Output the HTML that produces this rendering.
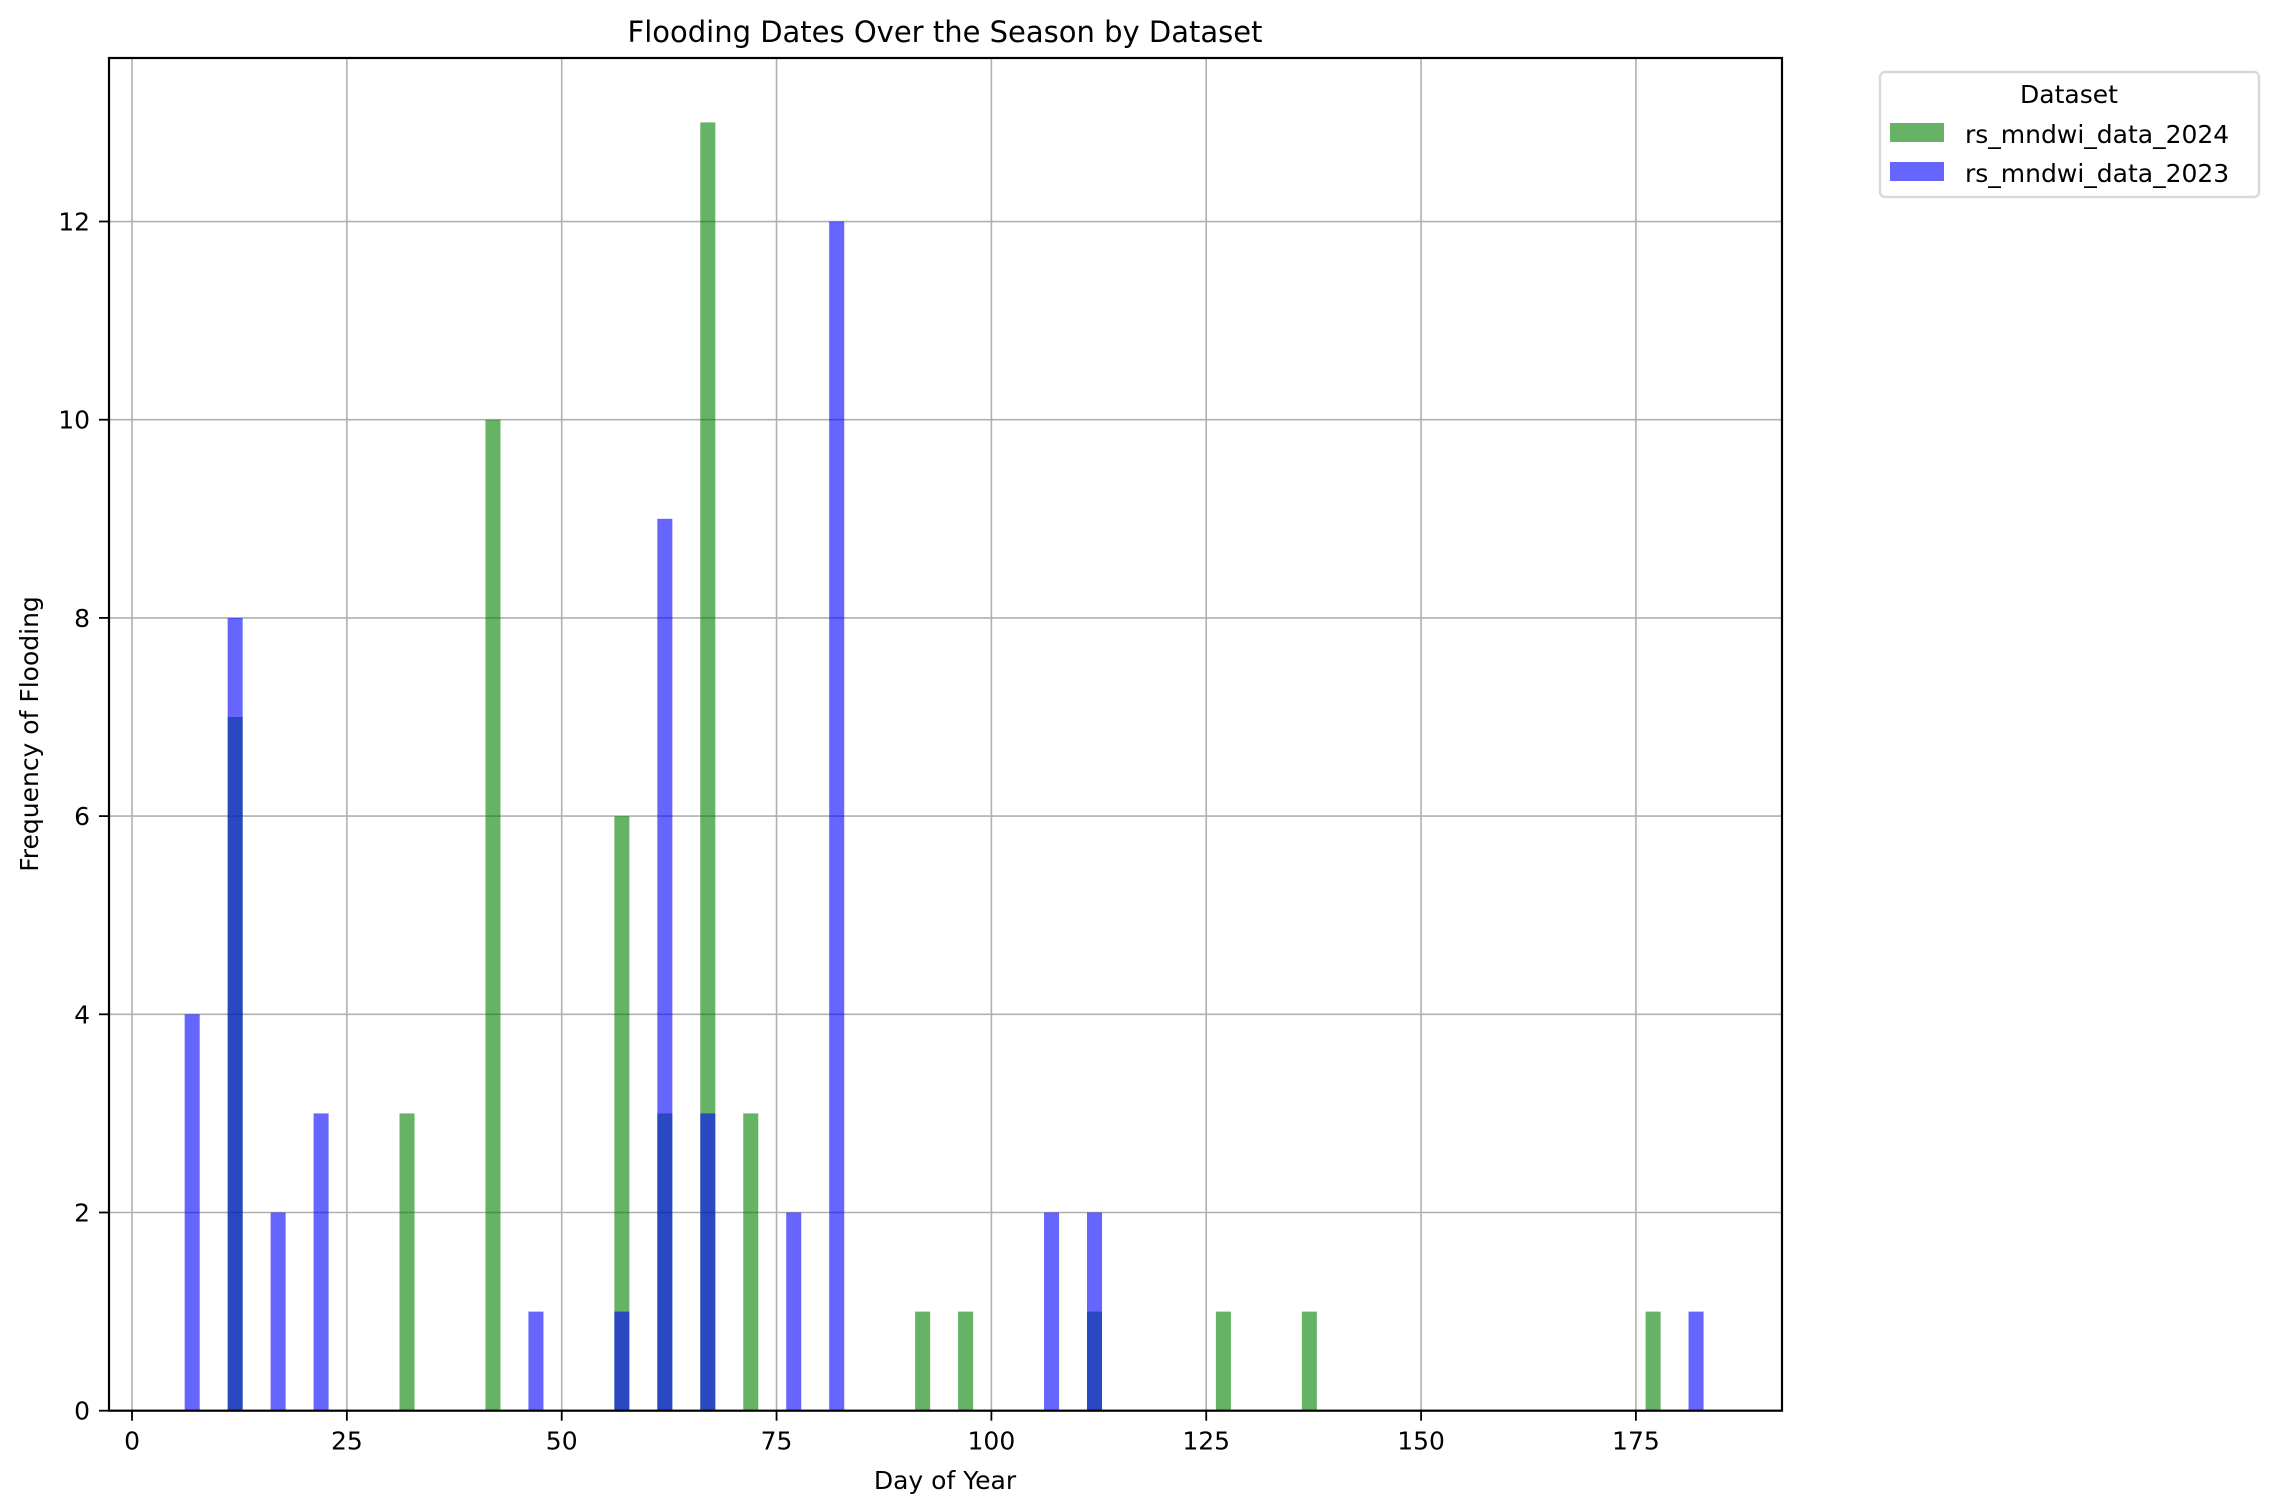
<!DOCTYPE html>
<html><head><meta charset="utf-8"><style>
html,body{margin:0;padding:0;background:#fff}
svg{display:block}
text{font-family:"DejaVu Sans","Liberation Sans",sans-serif;fill:#000}
</style></head><body>
<svg id="chart" width="2276" height="1512" viewBox="0 0 2276 1512">
<text x="945" y="42" font-size="29" text-anchor="middle">Flooding Dates Over the Season  by Dataset</text>
<g id="grid"></g>
<g id="bars"></g>
<rect x="109" y="58" width="1673" height="1352.7" fill="none" stroke="#000" stroke-width="2.2"/>
<g id="ticks"></g>
<text x="945" y="1489" font-size="25" text-anchor="middle">Day of Year</text>
<text transform="translate(38,734) rotate(-90)" font-size="25" text-anchor="middle">Frequency of Flooding</text>
<g>
<rect x="1880" y="72" width="379" height="125" rx="5" fill="#fff" stroke="#d9d9d9" stroke-width="2.5"/>
<text x="2069" y="103" font-size="25" text-anchor="middle">Dataset</text>
<rect x="1890" y="123" width="54" height="19" fill="#008000" fill-opacity="0.6"/>
<text x="1965" y="143" font-size="25">rs_mndwi_data_2024</text>
<rect x="1890" y="162" width="54" height="19" fill="#0000ff" fill-opacity="0.6"/>
<text x="1965" y="182" font-size="25">rs_mndwi_data_2023</text>
</g>
</svg>
<script>
const days2024 = [12, 32, 42, 57, 62, 67, 72, 92, 97, 112, 127, 137, 177];
const counts2024 = [7, 3, 10, 6, 3, 13, 3, 1, 1, 1, 1, 1, 1];
const days2023 = [7, 12, 17, 22, 47, 57, 62, 67, 77, 82, 107, 112, 182];
const counts2023 = [4, 8, 2, 3, 1, 1, 9, 3, 2, 12, 2, 2, 1];
const xTicks = [0, 25, 50, 75, 100, 125, 150, 175];
const yTicks = [0, 2, 4, 6, 8, 10, 12];

const NS = 'http://www.w3.org/2000/svg';
const x0 = 109, x1 = 1782, yTop = 58, yBot = 1410.7;
const xMin = -2.68, xMax = 192.0, yMax = 13.65;
const BW = 1.75;
function sx(d){ return x0 + (d - xMin) / (xMax - xMin) * (x1 - x0); }
function sy(v){ return yBot - v / yMax * (yBot - yTop); }
function mk(tag, attrs, parent){ const e = document.createElementNS(NS, tag); for (const k in attrs) e.setAttribute(k, attrs[k]); parent.appendChild(e); return e; }

const grid = document.getElementById('grid');
const ticks = document.getElementById('ticks');
xTicks.forEach(t => {
  const g = mk('line', {x1: sx(t), x2: sx(t), y1: yTop, y2: yBot, stroke: '#b0b0b0', 'stroke-width': 1.6}, grid);
  
  
  const tk = mk('line', {x1: sx(t), x2: sx(t), y1: yBot, y2: yBot + 10, stroke: '#000', 'stroke-width': 1.8}, ticks);
  
  
  const tx = mk('text', {x: sx(t), y: yBot + 39, 'font-size': 25, 'text-anchor': 'middle'}, ticks);
  tx.textContent = t;
  
  
});
yTicks.forEach(t => {
  const g = mk('line', {x1: x0, x2: x1, y1: sy(t), y2: sy(t), stroke: '#b0b0b0', 'stroke-width': 1.6}, grid);
  
  
  const tk = mk('line', {x1: x0 - 10, x2: x0, y1: sy(t), y2: sy(t), stroke: '#000', 'stroke-width': 1.8}, ticks);
  
  
  const tx = mk('text', {x: x0 - 19, y: sy(t) + 9, 'font-size': 25, 'text-anchor': 'end'}, ticks);
  tx.textContent = t;
  
  
});

const bars = document.getElementById('bars');
function drawSeries(days, counts, color, name){
  days.forEach((d, i) => {
    const r = mk('rect', {x: sx(d - BW/2), width: sx(d + BW/2) - sx(d - BW/2), y: sy(counts[i]), height: yBot - sy(counts[i]), fill: color, 'fill-opacity': 0.6}, bars);
    
    
  });
}
drawSeries(days2024, counts2024, '#008000', 'bar-2024');
drawSeries(days2023, counts2023, '#0000ff', 'bar-2023');
</script>
</body></html>
